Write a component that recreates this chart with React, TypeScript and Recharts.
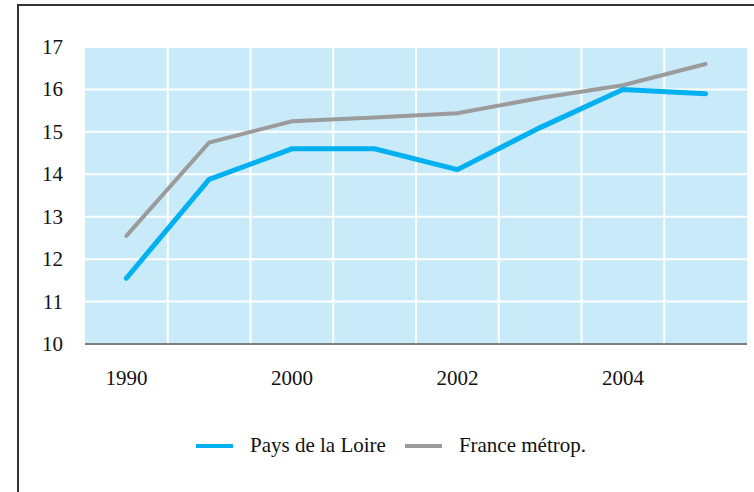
import { CartesianGrid, Line, LineChart, XAxis, YAxis } from "recharts";

const years = ["1990", "1999", "2000", "2001", "2002", "2003", "2004", "2005"];
const paysDeLaLoire = [11.55, 13.88, 14.6, 14.6, 14.11, 15.1, 16.0, 15.9];
const franceMetrop = [12.55, 14.75, 15.25, 15.34, 15.44, 15.8, 16.1, 16.6];
const yTicks = [10, 11, 12, 13, 14, 15, 16, 17];

const BLUE = "#00b0f0";
const GREY = "#9b9b9b";
const FONT = "Liberation Serif, Times New Roman, serif";

const data = years.map((year, i) => ({
  year,
  loire: paysDeLaLoire[i],
  france: franceMetrop[i],
}));

// vertical grid sits between categories, not on the points
function bandEdges({ offset }: any) {
  const step = offset.width / years.length;
  const xs: number[] = [];
  for (let i = 1; i < years.length; i++) xs.push(offset.left + step * i);
  return xs;
}

function XTick({ x, y, payload }: any) {
  return (
    <text x={x} y={y + 21} textAnchor="middle" fill="#111" fontSize={21} fontFamily={FONT}>
      {payload.value}
    </text>
  );
}

function YTick({ x, y, payload }: any) {
  return (
    <text x={x} y={y + 7} textAnchor="end" fill="#111" fontSize={21} fontFamily={FONT}>
      {payload.value}
    </text>
  );
}

function LegendItem({ color, label }: { color: string; label: string }) {
  return (
    <span style={{ display: "inline-flex", alignItems: "center", marginRight: 19 }}>
      <span
        style={{ width: 37, height: 4, background: color, marginRight: 17, display: "inline-block" }}
      />
      {label}
    </span>
  );
}

export default function App() {
  return (
    <div
      style={{
        position: "absolute",
        left: 0,
        top: 0,
        width: 754,
        height: 492,
        overflow: "hidden",
        background: "#fff",
        fontFamily: FONT,
      }}
    >
      <div
        style={{
          position: "absolute",
          left: 17,
          top: 4,
          width: 800,
          height: 600,
          borderLeft: "2px solid #333",
          borderTop: "2px solid #333",
        }}
      />
      <div style={{ position: "absolute", left: 0, top: 0 }}>
        <LineChart
          width={754}
          height={492}
          data={data}
          margin={{ top: 47, right: 7, bottom: 88, left: 0 }}
        >
          <CartesianGrid
            fill="#c8eaf9"
            stroke="#ffffff"
            strokeWidth={2}
            verticalCoordinatesGenerator={bandEdges}
          />
          <XAxis
            dataKey="year"
            scale="band"
            interval={1}
            height={60}
            tickLine={false}
            tickSize={0}
            tickMargin={20}
            axisLine={{ stroke: "#555", strokeWidth: 1.5 }}
            tick={<XTick />}
          />
          <YAxis
            width={85}
            domain={[10, 17]}
            ticks={yTicks}
            interval={0}
            axisLine={false}
            tickLine={false}
            tickSize={0}
            tickMargin={22}
            tick={<YTick />}
          />
          <Line
            dataKey="france"
            name="France métrop."
            stroke={GREY}
            strokeWidth={4}
            dot={false}
            strokeLinecap="round"
            isAnimationActive={false}
          />
          <Line
            dataKey="loire"
            name="Pays de la Loire"
            stroke={BLUE}
            strokeWidth={5}
            dot={false}
            strokeLinecap="round"
            isAnimationActive={false}
          />
        </LineChart>
      </div>
      <div
        style={{
          position: "absolute",
          left: 196,
          top: 433,
          fontSize: 21,
          color: "#111",
          whiteSpace: "nowrap",
          display: "flex",
          alignItems: "center",
        }}
      >
        <LegendItem color={BLUE} label="Pays de la Loire" />
        <LegendItem color={GREY} label="France métrop." />
      </div>
    </div>
  );
}
